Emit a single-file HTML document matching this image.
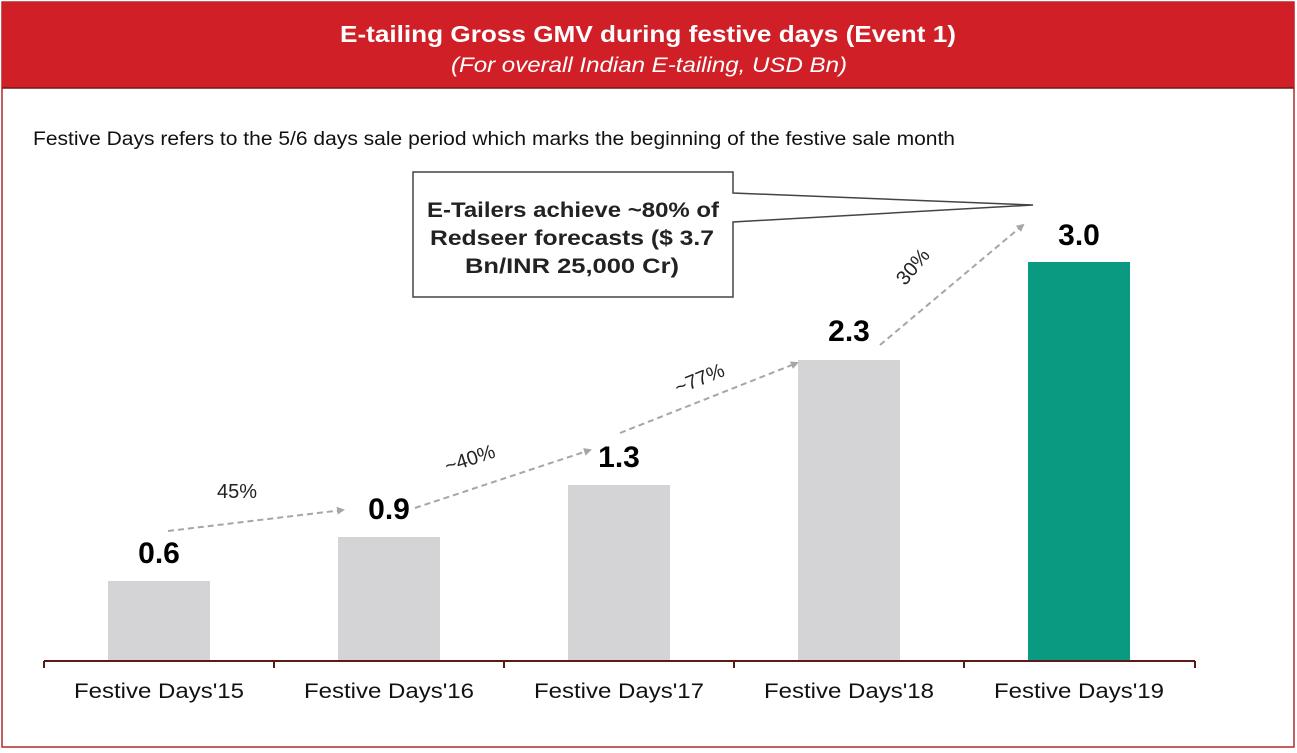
<!DOCTYPE html>
<html><head><style>
body{margin:0;background:#fff;}
svg{display:block;font-family:"Liberation Sans",Arial,sans-serif;}
</style></head><body>
<svg width="1297" height="753" viewBox="0 0 1297 753">
<rect x="2" y="2" width="1292" height="745" fill="#fff" stroke="#b22a2a" stroke-width="1.5"/>
<rect x="2" y="2" width="1292" height="86" fill="#d01f27"/>
<line x1="2" y1="88" x2="1294" y2="88" stroke="#6b1a1a" stroke-width="1.5"/>
<text x="340" y="42" font-size="23" font-weight="bold" fill="#fff" textLength="616" lengthAdjust="spacingAndGlyphs">E-tailing Gross GMV during festive days (Event 1)</text>
<text x="451" y="72" font-size="21" font-style="italic" fill="#fff" textLength="396" lengthAdjust="spacingAndGlyphs">(For overall Indian E-tailing, USD Bn)</text>
<text x="33" y="145" font-size="19" fill="#111" textLength="922" lengthAdjust="spacingAndGlyphs">Festive Days refers to the 5/6 days sale period which marks the beginning of the festive sale month</text>
<g fill="#d4d4d6">
<rect x="108" y="581" width="102" height="80"/>
<rect x="338" y="537" width="102" height="124"/>
<rect x="568" y="485" width="102" height="176"/>
<rect x="798" y="360" width="102" height="301"/>
</g>
<rect x="1028" y="262" width="102" height="399" fill="#0a9a82"/>
<g stroke="#5a1a1a" stroke-width="2">
<line x1="44" y1="661" x2="1195" y2="661"/>
<line x1="44" y1="661" x2="44" y2="668"/><line x1="274" y1="661" x2="274" y2="668"/><line x1="504" y1="661" x2="504" y2="668"/><line x1="734" y1="661" x2="734" y2="668"/><line x1="964" y1="661" x2="964" y2="668"/><line x1="1195" y1="661" x2="1195" y2="668"/>
</g>
<g font-size="21" fill="#111">
<text x="74" y="698" textLength="170" lengthAdjust="spacingAndGlyphs">Festive Days'15</text>
<text x="304" y="698" textLength="170" lengthAdjust="spacingAndGlyphs">Festive Days'16</text>
<text x="534" y="698" textLength="170" lengthAdjust="spacingAndGlyphs">Festive Days'17</text>
<text x="764" y="698" textLength="170" lengthAdjust="spacingAndGlyphs">Festive Days'18</text>
<text x="994" y="698" textLength="170" lengthAdjust="spacingAndGlyphs">Festive Days'19</text>
</g>
<g font-size="30" font-weight="bold" fill="#000" text-anchor="middle">
<text x="159" y="563">0.6</text><text x="389" y="519">0.9</text><text x="619" y="467">1.3</text><text x="849" y="341">2.3</text><text x="1079" y="245">3.0</text>
</g>
<defs><marker id="ar" markerWidth="8" markerHeight="8" refX="6" refY="4" orient="auto" markerUnits="userSpaceOnUse"><path d="M0,0 L8,4 L0,8 z" fill="#a6a6a6"/></marker></defs>
<g stroke="#a6a6a6" stroke-width="2" stroke-dasharray="6,4" fill="none" marker-end="url(#ar)">
<line x1="168" y1="531" x2="343" y2="510"/>
<line x1="415" y1="508" x2="590" y2="450"/>
<line x1="620" y1="433" x2="797" y2="363"/>
<line x1="880" y1="345" x2="1023" y2="225"/>
</g>
<g font-size="20" fill="#222" text-anchor="middle">
<text x="237" y="498">45%</text>
<text transform="translate(472,465) rotate(-18)">~40%</text>
<text transform="translate(702,385) rotate(-22)">~77%</text>
<text transform="translate(918,271) rotate(-50)">30%</text>
</g>
<path d="M413,172 L733,172 L733,193 L1033,205 L733,222 L733,297 L413,297 Z" fill="#fff" stroke="#444" stroke-width="1.5"/>
<g font-size="21" font-weight="bold" fill="#222">
<text x="427" y="217" textLength="292" lengthAdjust="spacingAndGlyphs">E-Tailers achieve ~80% of</text>
<text x="430" y="245" textLength="284" lengthAdjust="spacingAndGlyphs">Redseer forecasts ($ 3.7</text>
<text x="465" y="273" textLength="214" lengthAdjust="spacingAndGlyphs">Bn/INR 25,000 Cr)</text>
</g>
</svg>
</body></html>
